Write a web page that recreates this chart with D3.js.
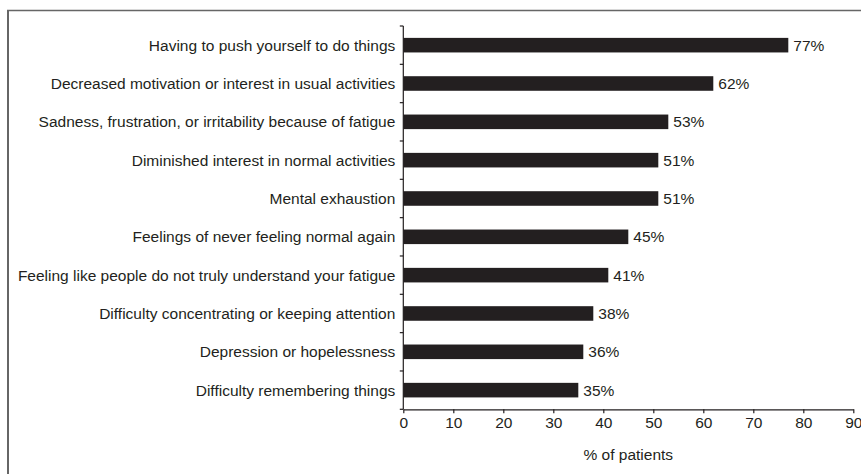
<!DOCTYPE html>
<html>
<head>
<meta charset="utf-8">
<script src="https://cdn.jsdelivr.net/npm/d3@7"></script>
<style>
  html, body { margin: 0; padding: 0; background: #fff; }
  svg { display: block; }
  text { font-family: "Liberation Sans", Arial, Helvetica, sans-serif; fill: #231f20; }
</style>
</head>
<body>
<script>
// Symptoms reported, top to bottom
const categories = [
  "Having to push yourself to do things",
  "Decreased motivation or interest in usual activities",
  "Sadness, frustration, or irritability because of fatigue",
  "Diminished interest in normal activities",
  "Mental exhaustion",
  "Feelings of never feeling normal again",
  "Feeling like people do not truly understand your fatigue",
  "Difficulty concentrating or keeping attention",
  "Depression or hopelessness",
  "Difficulty remembering things"
];
// Share of patients (%)
const values = [77, 62, 53, 51, 51, 45, 41, 38, 36, 35];
const xTicks = [0, 10, 20, 30, 40, 50, 60, 70, 80, 90];
const xTitle = "% of patients";

const W = 861, H = 474;
const margin = { left: 403.3, right: 7.7, top: 26, bottom: 64.7 };
const FS = 15.5;

const svg = d3.select("body").append("svg")
  .attr("width", W).attr("height", H);

// Frame: left and top rules
svg.append("line").attr("x1", 8).attr("x2", 8).attr("y1", 10.5).attr("y2", H)
  .attr("stroke", "#666").attr("stroke-width", 2);
svg.append("line").attr("x1", 7).attr("x2", W).attr("y1", 10.5).attr("y2", 10.5)
  .attr("stroke", "#666").attr("stroke-width", 1.5);

const x = d3.scaleLinear().domain([0, 90]).range([margin.left, W - margin.right]);
const y = d3.scaleBand().domain(categories)
  .range([margin.top, H - margin.bottom]).paddingInner(0.62).paddingOuter(0.31);

const yBoundary = d3.scaleLinear().domain([0, categories.length])
  .range([margin.top, H - margin.bottom]);

const g = svg.append("g");

// Bars
g.selectAll("rect.bar").data(values).join("rect")
  .attr("class", "bar")
  .attr("x", x(0))
  .attr("y", (d, i) => y(categories[i]))
  .attr("width", d => x(d) - x(0))
  .attr("height", y.bandwidth())
  .attr("fill", "#231f20");

// Value labels
g.selectAll("text.val").data(values).join("text")
  .attr("class", "val")
  .attr("x", d => x(d) + 5)
  .attr("y", (d, i) => y(categories[i]) + y.bandwidth() / 2)
  .attr("dy", "0.35em")
  .attr("font-size", FS)
  .text(d => d + "%");

// Category labels
g.selectAll("text.cat").data(categories).join("text")
  .attr("class", "cat")
  .attr("x", x(0) - 8)
  .attr("y", d => y(d) + y.bandwidth() / 2)
  .attr("dy", "0.35em")
  .attr("text-anchor", "end")
  .attr("font-size", FS)
  .text(d => d);

// Y axis line with ticks at category boundaries
const axisColor = "#231f20";
g.append("line")
  .attr("x1", x(0)).attr("x2", x(0))
  .attr("y1", margin.top).attr("y2", H - margin.bottom)
  .attr("stroke", axisColor).attr("stroke-width", 1.2);
g.selectAll("line.ytick").data(d3.range(categories.length + 1)).join("line")
  .attr("class", "ytick")
  .attr("x1", x(0) - 3.5).attr("x2", x(0))
  .attr("y1", d => yBoundary(d)).attr("y2", d => yBoundary(d))
  .attr("stroke", axisColor).attr("stroke-width", 1.2);

// X axis
const xAxis = d3.axisBottom(x).tickValues(xTicks).tickSize(4).tickPadding(4)
  .tickSizeOuter(0);
const xa = svg.append("g")
  .attr("transform", `translate(0,${H - margin.bottom})`)
  .call(xAxis);
xa.select(".domain").attr("stroke", axisColor).attr("stroke-width", 1.2);
xa.selectAll(".tick line").attr("stroke", axisColor).attr("stroke-width", 1.2);
xa.selectAll(".tick text")
  .attr("font-size", FS)
  .attr("font-family", "Liberation Sans, Arial, sans-serif")
  .attr("fill", "#231f20");

svg.append("text")
  .attr("x", x(45))
  .attr("y", 460)
  .attr("text-anchor", "middle")
  .attr("font-size", FS)
  .text(xTitle);
</script>
</body>
</html>
